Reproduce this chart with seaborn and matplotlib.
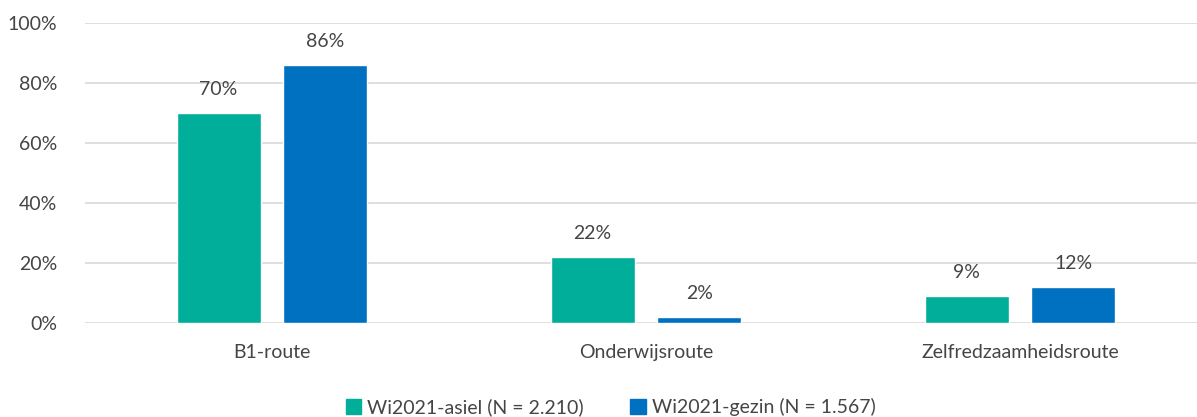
import numpy as np
import pandas as pd
import matplotlib
matplotlib.use("Agg")
import matplotlib.pyplot as plt
import seaborn as sns

categories = ['B1-route', 'Onderwijsroute', 'Zelfredzaamheidsroute']
series = ['Wi2021-asiel (N = 2.210)', 'Wi2021-gezin (N = 1.567)']
asiel = [70, 22, 9]
gezin = [86, 2, 12]
yticks = [0, 20, 40, 60, 80, 100]
colors = ['#00AE9A', '#0070C0']

df = pd.DataFrame({
    'route': categories * 2,
    'groep': [series[0]] * 3 + [series[1]] * 3,
    'pct': asiel + gezin,
})

sns.set_style('white')
plt.rcParams['font.family'] = ['Lato', 'DejaVu Sans']
grey = '#454545'

fig = plt.figure(figsize=(11.97, 4.17), dpi=100)
ax = fig.add_axes([85 / 1197, 1 - 323 / 417, 1122 / 1197, 300 / 417])

sns.barplot(data=df, x='route', y='pct', hue='groep', palette=colors,
            width=0.572, gap=0.215, ax=ax, legend=True, saturation=1)

for c in ax.containers:
    for bar in c:
        h = bar.get_height()
        ax.annotate(f'{h:.0f}%', (bar.get_x() + bar.get_width() / 2, h),
                    xytext=(0, 11), textcoords='offset points',
                    ha='center', va='bottom', fontsize=14, color=grey)

ax.set_ylim(0, 100)
ax.set_xlim(-0.5, 2.5)
ax.set_yticks(yticks)
ax.set_yticklabels([f'{v}%' for v in yticks], fontsize=14, color=grey)
ax.tick_params(axis='x', labelsize=14, labelcolor=grey, pad=15, length=0)
ax.tick_params(axis='y', length=0, pad=20)
ax.yaxis.grid(True, color='#D9D9D9', linewidth=1.2)
ax.set_axisbelow(True)
for s in ax.spines.values():
    s.set_visible(False)
ax.set_xlabel('')
ax.set_ylabel('')

ax.legend_.remove()
handles = [plt.Rectangle((0, 0), 1, 1, color=col) for col in colors]
fig.legend(handles, series, loc='lower center', bbox_to_anchor=(0.51, -0.04),
           ncol=2, frameon=False, fontsize=14, handlelength=0.8, handleheight=0.8,
           handletextpad=0.3, columnspacing=2.4, labelcolor=grey)

fig.savefig('out.png', dpi=100)
